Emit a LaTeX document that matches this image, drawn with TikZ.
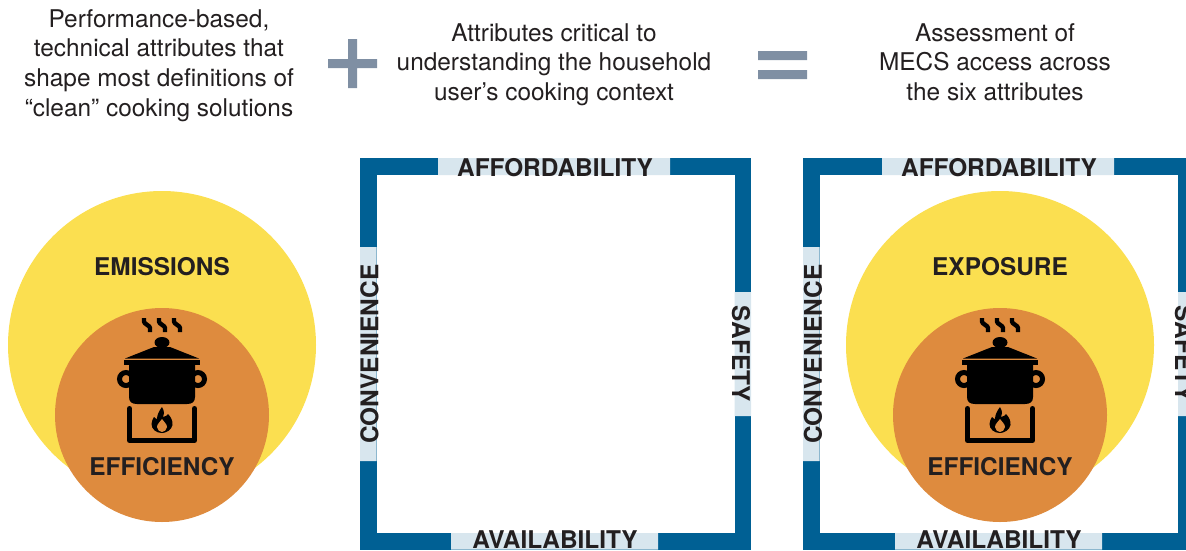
\documentclass[tikz,border=0pt]{standalone}
\usepackage{fontspec}
\setmainfont{TeX Gyre Heros}
\definecolor{framecol}{HTML}{006094}
\definecolor{tabcol}{HTML}{D8E6EE}
\definecolor{yellowcol}{HTML}{FBDF50}
\definecolor{orangecol}{HTML}{DE8B3E}
\definecolor{signcol}{HTML}{7F8FA3}
\definecolor{inkcol}{HTML}{231F20}
\tikzset{
  head/.style={font=\fontsize{24.4}{29.7}\selectfont,align=center,text=inkcol,inner sep=0pt},
  attr/.style={font=\fontsize{24.4}{28}\selectfont\bfseries,text=inkcol,inner sep=0pt},
  tab/.style={fill=tabcol,draw=none},
  frame/.style={draw=framecol,line width=16.5pt,fill=white},
  pics/potstove/.style={code={
    % steam
    \foreach \sx in {-15,0,15}
      \draw[black,line width=4.4pt,rounded corners=1pt] (\sx-3,-97) -- (\sx-3,-92.5) -- (\sx+3,-88) -- (\sx+3,-83);
    % lid
    \fill[black] (0,-72.5) ellipse (7.5 and 5.5);
    \fill[black] (-37,-56.5) -- (-8,-68) -- (8,-68) -- (37,-56.5) -- cycle;
    \fill[black] (-38,-55) rectangle (38,-50);
    % handles
    \draw[black,line width=5pt] (-36,-36) circle (6.5) (36,-36) circle (6.5);
    % body
    \fill[black] (-33,-50) -- (33,-50) -- (33,-18) .. controls (33,-13) and (30,-11) .. (25,-11)
      -- (-25,-11) .. controls (-30,-11) and (-33,-13) .. (-33,-18) -- cycle;
    % stove
    \draw[black,line width=5pt,line cap=round,line join=round] (-32.5,-6.5) -- (-32.5,25.5) -- (32.5,25.5) -- (32.5,-6.5);
    % flame
    \fill[black] (0,-8) .. controls (3,-3) and (2,0) .. (1,2) .. controls (4,2) and (5,0) .. (6,-1)
      .. controls (9,2) and (11,6) .. (10.5,10) .. controls (9.5,15) and (4,18) .. (0,18)
      .. controls (-6,18) and (-10.5,14) .. (-10.5,9) .. controls (-10.5,6) and (-9,4) .. (-8,2)
      .. controls (-7,3) and (-6,4) .. (-5,4) .. controls (-5,0) and (-3,-4) .. (0,-8) -- cycle;
    \fill[orangecol] (0,4) .. controls (2,7) and (5,9) .. (5,12) .. controls (5,15) and (2,17) .. (0,17)
      .. controls (-2,17) and (-5,15) .. (-5,12) .. controls (-5,9) and (-2,7) .. (0,4) -- cycle;
  }}
}
\begin{document}
\begin{tikzpicture}[x=1pt,y=-1pt]
  \useasboundingbox (0,0) rectangle (1186,550);
  % header texts
  \node[head] (perf) at (159,65.5) {Performance-based,\\technical attributes that\\shape most definitions of\\“clean” cooking solutions};
  \node[head] (crit) at (554,64.5) {Attributes critical to\\understanding the household\\user’s cooking context};
  \node[head] (assess) at (995,62) {Assessment of\\MECS access across\\the six attributes};
  % plus and equals
  \fill[signcol] (328,59) rectangle (377,68) (348,39) rectangle (357,88);
  \fill[signcol] (758,51) rectangle (807,60) (758,70) rectangle (807,79);
  % left circles
  \fill[yellowcol] (162,345) circle (154);
  \fill[orangecol] (162,415) circle (107);
  \pic at (162,415) {potstove};
  \node[attr] (emis1) at (162,267) {EMISSIONS};
  \node[attr] (effi1) at (162,467) {EFFICIENCY};
  % middle frame
  \draw[frame] (368.25,166.25) rectangle (742.75,541.25);
  \fill[tab] (438,158) rectangle (670,175) (451,533) rectangle (658,549.5);
  \fill[tab] (360,247) rectangle (376.5,461) (734.5,292) rectangle (751,416);
  \node[attr] (aff1) at (555,168) {AFFORDABILITY};
  \node[attr] (ava1) at (555,540) {AVAILABILITY};
  \node[attr,rotate=90] (con1) at (369.5,354) {CONVENIENCE};
  \node[attr,rotate=-90] (saf1) at (741,354) {SAFETY};
  % right frame
  \draw[frame] (811.25,166.25) rectangle (1186,541.25);
  \fill[tab] (882,158) rectangle (1114,175) (895,533) rectangle (1102,549.5);
  \fill[tab] (803,247) rectangle (819.5,461) (1178,292) rectangle (1194,416);
  \node[attr] (aff2) at (999,168) {AFFORDABILITY};
  \node[attr] (ava2) at (999,540) {AVAILABILITY};
  \node[attr,rotate=90] (con2) at (813,354) {CONVENIENCE};
  \node[attr,rotate=-90] (saf2) at (1184,354) {SAFETY};
  % right circles
  \fill[yellowcol] (1000,345) circle (154);
  \fill[orangecol] (1000,415) circle (107);
  \pic at (1000,415) {potstove};
  \node[attr] (expo) at (1000,267) {EXPOSURE};
  \node[attr] (effi2) at (1000,467) {EFFICIENCY};
\end{tikzpicture}
\end{document}
